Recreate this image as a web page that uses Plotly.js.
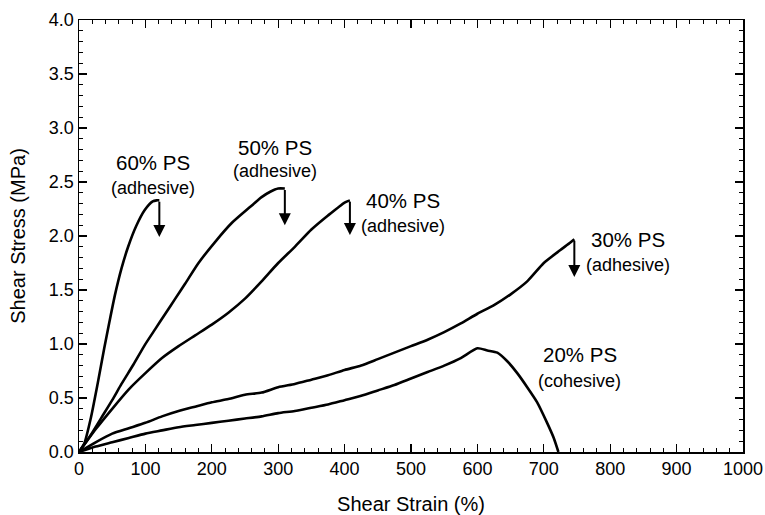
<!DOCTYPE html>
<html>
<head>
<meta charset="utf-8">
<script src="https://cdn.plot.ly/plotly-3.0.1.min.js"></script>
<style>html,body{margin:0;padding:0;background:#fff;}#chart{width:765px;height:515px;}</style>
</head>
<body>
<div id="chart"></div>
<script>
// Shear strain (%) / shear stress (MPa)
const ps60_x = [0, 8, 18, 28, 38, 46, 54, 64, 74, 86, 99, 111, 117, 121];
const ps60_y = [0, 0.08, 0.32, 0.63, 0.96, 1.21, 1.45, 1.70, 1.90, 2.09, 2.24, 2.32, 2.33, 2.33];

const ps50_x = [0, 17, 34, 50, 64, 82, 99, 115, 130, 145, 160, 180, 207, 230, 258, 275, 288, 300, 310];
const ps50_y = [0, 0.15, 0.32, 0.48, 0.63, 0.81, 0.99, 1.14, 1.28, 1.42, 1.56, 1.75, 1.96, 2.12, 2.27, 2.36, 2.41, 2.44, 2.44];

const ps40_x = [0, 25, 50, 75, 100, 125, 150, 175, 200, 225, 250, 275, 300, 325, 350, 375, 400, 408];
const ps40_y = [0, 0.21, 0.40, 0.58, 0.73, 0.87, 0.98, 1.08, 1.18, 1.29, 1.42, 1.58, 1.75, 1.90, 2.06, 2.19, 2.31, 2.33];

const ps30_x = [0, 25, 50, 75, 100, 125, 150, 175, 200, 225, 250, 275, 300, 325, 350, 375, 400, 425, 450, 475, 500, 525, 550, 575, 600, 625, 650, 675, 700, 725, 740, 746];
const ps30_y = [0, 0.09, 0.17, 0.22, 0.27, 0.33, 0.38, 0.42, 0.46, 0.49, 0.53, 0.55, 0.60, 0.63, 0.67, 0.71, 0.76, 0.80, 0.86, 0.92, 0.98, 1.04, 1.11, 1.19, 1.28, 1.36, 1.46, 1.58, 1.75, 1.87, 1.94, 1.97];

const ps20_x = [0, 25, 50, 75, 100, 125, 150, 175, 200, 225, 250, 275, 300, 325, 350, 375, 400, 425, 450, 475, 500, 525, 550, 575, 600, 615, 630, 645, 660, 675, 690, 705, 715, 722];
const ps20_y = [0, 0.05, 0.09, 0.13, 0.17, 0.20, 0.23, 0.25, 0.27, 0.29, 0.31, 0.33, 0.36, 0.38, 0.41, 0.44, 0.48, 0.52, 0.57, 0.62, 0.68, 0.74, 0.80, 0.87, 0.96, 0.94, 0.92, 0.84, 0.73, 0.60, 0.46, 0.27, 0.13, 0];

// Failure arrows (adhesive failure): x, start (peak) and tip stress
const arrow_x = [121, 310, 408, 746];
const arrow_top = [2.33, 2.44, 2.33, 1.97];
const arrow_tip = [1.99, 2.10, 2.01, 1.62];

// Labels
const label_main = ["60% PS", "50% PS", "40% PS", "30% PS", "20% PS"];
const label_sub = ["(adhesive)", "(adhesive)", "(adhesive)", "(adhesive)", "(cohesive)"];
const label_x = [112, 295, 488, 827, 754];
const label_main_y = [2.68, 2.82, 2.33, 1.97, 0.90];
const label_sub_y = [2.44, 2.60, 2.09, 1.73, 0.66];

const FONT = '"Liberation Sans", Arial, Helvetica, sans-serif';
const lineStyle = {color: '#000', width: 2.6, shape: 'spline', smoothing: 0.6};

const series = [[ps60_x, ps60_y], [ps50_x, ps50_y], [ps40_x, ps40_y], [ps30_x, ps30_y], [ps20_x, ps20_y]];
const traces = series.map((s, i) => ({
  x: s[0], y: s[1], type: 'scatter', mode: 'lines',
  line: lineStyle, name: label_main[i], showlegend: false, hoverinfo: 'skip'
}));

const annotations = [];
for (let i = 0; i < arrow_x.length; i++) {
  annotations.push({
    x: arrow_x[i], y: arrow_tip[i], xref: 'x', yref: 'y',
    ax: arrow_x[i], ay: arrow_top[i], axref: 'x', ayref: 'y',
    text: '', showarrow: true, arrowhead: 2, arrowsize: 1.2, arrowwidth: 2, arrowcolor: '#000',
    standoff: 0, startstandoff: 0
  });
}
for (let i = 0; i < label_main.length; i++) {
  annotations.push({
    x: label_x[i], y: label_main_y[i], xref: 'x', yref: 'y', showarrow: false,
    text: label_main[i], font: {family: FONT, size: 20.5, color: '#000'}, xanchor: 'center', yanchor: 'middle'
  });
  annotations.push({
    x: label_x[i], y: label_sub_y[i], xref: 'x', yref: 'y', showarrow: false,
    text: label_sub[i], font: {family: FONT, size: 18, color: '#000'}, xanchor: 'center', yanchor: 'middle'
  });
}

const axisCommon = {
  showline: true, linecolor: '#000', linewidth: 1.5, mirror: 'ticks',
  ticks: 'inside', ticklen: 8, tickwidth: 1.3, tickcolor: '#000',
  showgrid: false, zeroline: false,
  tickfont: {family: FONT, size: 18, color: '#000'}
};

const layout = {
  width: 765, height: 515,
  margin: {l: 79, r: 22, t: 20, b: 63},
  paper_bgcolor: '#fff', plot_bgcolor: '#fff',
  font: {family: FONT, color: '#000'},
  xaxis: Object.assign({}, axisCommon, {
    range: [0, 1000], dtick: 100, tick0: 0,
    minor: {dtick: 20, ticks: 'inside', ticklen: 4, tickwidth: 1, tickcolor: '#000'},
    title: {text: 'Shear Strain (%)', font: {family: FONT, size: 20, color: '#000'}, standoff: 19}
  }),
  yaxis: Object.assign({}, axisCommon, {
    range: [0, 4], dtick: 0.5, tick0: 0, tickformat: '.1f',
    minor: {dtick: 0.1, ticks: 'inside', ticklen: 4, tickwidth: 1, tickcolor: '#000'},
    title: {text: 'Shear Stress (MPa)', font: {family: FONT, size: 20, color: '#000'}, standoff: 18}
  }),
  annotations: annotations,
  showlegend: false
};

Plotly.newPlot('chart', traces, layout, {displayModeBar: false, staticPlot: true});
</script>
</body>
</html>
